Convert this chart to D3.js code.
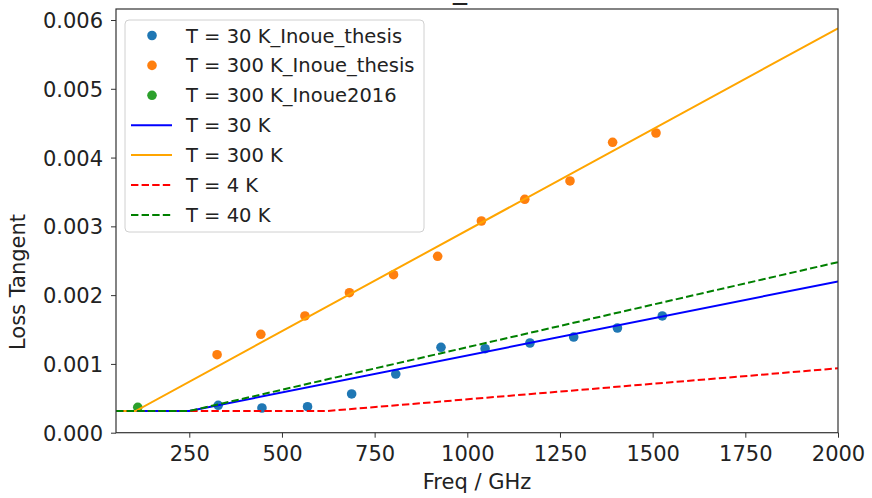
<!DOCTYPE html>
<html>
<head>
<meta charset="utf-8">
<script src="https://cdn.jsdelivr.net/npm/d3@7"></script>
<style>
  html, body { margin: 0; padding: 0; background: #fff; }
  svg { display: block; font-family: "DejaVu Sans", sans-serif; }
</style>
</head>
<body>
<svg id="chart" width="872" height="498"></svg>
<script>
// Measured loss tangent (Inoue thesis, 30 K and 300 K; Inoue 2016 at 300 K)
const freq30K = [328, 446, 569, 688, 807, 929, 1048, 1169, 1287, 1405, 1526];
const tan30K = [0.000398, 0.000359, 0.000378, 0.000563, 0.000853, 0.001242, 0.001221, 0.001304, 0.001391, 0.001522, 0.001697];
const freq300K = [325, 443, 562, 682, 801, 920, 1038, 1155, 1277, 1392, 1509];
const tan300K = [0.001134, 0.001431, 0.001697, 0.002035, 0.002297, 0.002565, 0.003078, 0.003393, 0.003660, 0.004222, 0.004357];
const freq2016 = [111];
const tan2016 = [0.000369];

// Model curves: breakpoints in frequency (GHz) and loss tangent
const modelFreq30K = [52.3, 250, 2000];
const modelTan30K = [0.000315, 0.000315, 0.0022];
const modelFreq300K = [52.3, 105, 2000];
const modelTan300K = [0.000315, 0.000315, 0.00588];
const modelFreq4K = [52.3, 622, 2000];
const modelTan4K = [0.000315, 0.000315, 0.000936];
const modelFreq40K = [52.3, 250, 2000];
const modelTan40K = [0.000315, 0.000315, 0.00248];

const xTicks = [250, 500, 750, 1000, 1250, 1500, 1750, 2000];
const yTicks = [0, 0.001, 0.002, 0.003, 0.004, 0.005, 0.006];

const svg = d3.select("#chart");
const m = { left: 116, right: 838, top: 9, bottom: 432.7 };

const x = d3.scaleLinear().domain([52.3, 2000]).range([m.left, m.right]);
const y = d3.scaleLinear().domain([0, 0.00616]).range([m.bottom, m.top]);

const pts = (fs, vs) => fs.map((f, i) => ({ f, v: vs[i] }));

const scatter = [
  { label: "T = 30 K_Inoue_thesis", color: "#1f77b4", data: pts(freq30K, tan30K) },
  { label: "T = 300 K_Inoue_thesis", color: "#ff7f0e", data: pts(freq300K, tan300K) },
  { label: "T = 300 K_Inoue2016", color: "#2ca02c", data: pts(freq2016, tan2016) }
];
const models = [
  { label: "T = 30 K", color: "#0000ff", dash: null, data: pts(modelFreq30K, modelTan30K) },
  { label: "T = 300 K", color: "#ffa500", dash: null, data: pts(modelFreq300K, modelTan300K) },
  { label: "T = 4 K", color: "#ff0000", dash: "7.4,3.2", data: pts(modelFreq4K, modelTan4K) },
  { label: "T = 40 K", color: "#008000", dash: "7.4,3.2", data: pts(modelFreq40K, modelTan40K) }
];

const plot = svg.append("g");
plot.append("clipPath").attr("id", "clip")
  .append("rect").attr("x", m.left).attr("y", m.top)
  .attr("width", m.right - m.left).attr("height", m.bottom - m.top);
const inner = plot.append("g").attr("clip-path", "url(#clip)");

// measured points
scatter.forEach(s => {
  inner.append("g").selectAll("circle").data(s.data).join("circle")
    .attr("cx", d => x(d.f)).attr("cy", d => y(d.v)).attr("r", 4.8)
    .attr("fill", s.color);
});

// model lines
const line = d3.line().x(d => x(d.f)).y(d => y(d.v));
models.forEach(md => {
  inner.append("path").datum(md.data)
    .attr("d", line).attr("fill", "none")
    .attr("stroke", md.color).attr("stroke-width", 2)
    .attr("stroke-dasharray", md.dash);
});

// axes
const fontSize = 21;
const legendFont = 19.5;
const xAxis = svg.append("g").attr("transform", `translate(0,${m.bottom})`)
  .call(d3.axisBottom(x).tickValues(xTicks).tickFormat(d3.format("d")).tickSize(5).tickSizeOuter(0));
const yAxis = svg.append("g").attr("transform", `translate(${m.left},0)`)
  .call(d3.axisLeft(y).tickValues(yTicks).tickFormat(d3.format(".3f")).tickSize(5).tickSizeOuter(0));
[xAxis, yAxis].forEach(a => {
  a.select(".domain").remove();
  a.selectAll(".tick line").attr("stroke", "#333").attr("stroke-width", 1);
  a.selectAll(".tick text").attr("fill", "#222").attr("font-size", fontSize)
    .attr("font-family", "DejaVu Sans, sans-serif");
});
xAxis.selectAll(".tick text").attr("dy", null).attr("y", 28);
yAxis.selectAll(".tick text").attr("x", -13).attr("dy", "0.36em");

// frame
svg.append("rect").attr("x", m.left).attr("y", m.top)
  .attr("width", m.right - m.left).attr("height", m.bottom - m.top)
  .attr("fill", "none").attr("stroke", "#333").attr("stroke-width", 1.2);

// axis labels and title
svg.append("text").attr("x", (m.left + m.right) / 2).attr("y", 489)
  .attr("text-anchor", "middle").attr("font-size", fontSize).attr("fill", "#222")
  .text("Freq / GHz");
svg.append("text").attr("transform", "translate(25,282) rotate(-90)")
  .attr("text-anchor", "middle").attr("font-size", fontSize).attr("fill", "#222")
  .text("Loss Tangent");
svg.append("text").attr("x", 460).attr("y", -2.5)
  .attr("text-anchor", "middle").attr("font-size", 28).attr("fill", "#222")
  .text("_");

// legend
const lg = svg.append("g");
lg.append("rect").attr("x", 125).attr("y", 20).attr("width", 299).attr("height", 212)
  .attr("rx", 4).attr("fill", "#fff").attr("fill-opacity", 0.8)
  .attr("stroke", "#d0d0d0").attr("stroke-width", 1);
const entries = scatter.map(s => ({ ...s, kind: "dot" })).concat(models.map(md => ({ ...md, kind: "line" })));
entries.forEach((e, i) => {
  const cy = 35.5 + i * 29.9;
  if (e.kind === "dot") {
    lg.append("circle").attr("cx", 152).attr("cy", cy).attr("r", 4.8).attr("fill", e.color);
  } else {
    lg.append("line").attr("x1", 131).attr("x2", 172).attr("y1", cy).attr("y2", cy)
      .attr("stroke", e.color).attr("stroke-width", 2).attr("stroke-dasharray", e.dash);
  }
  lg.append("text").attr("x", 186).attr("y", cy).attr("dy", "0.36em")
    .attr("font-size", legendFont).attr("fill", "#222").text(e.label);
});
</script>
</body>
</html>
